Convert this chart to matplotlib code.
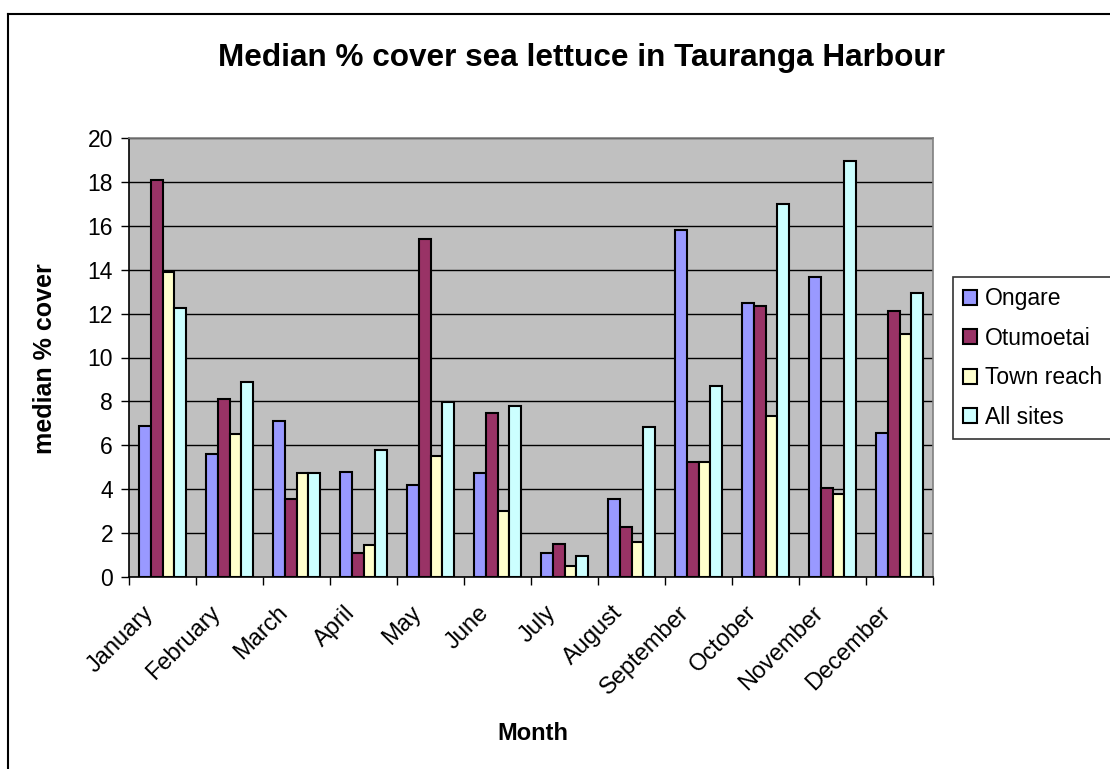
import matplotlib
matplotlib.use("Agg")
import matplotlib.pyplot as plt
import matplotlib.transforms as mtransforms
import numpy as np
from matplotlib.lines import Line2D

months = ["January", "February", "March", "April", "May", "June", "July",
          "August", "September", "October", "November", "December"]
series_names = ["Ongare", "Otumoetai", "Town reach", "All sites"]
ongare = [6.9, 5.6, 7.1, 4.8, 4.2, 4.75, 1.1, 3.55, 15.8, 12.5, 13.65, 6.55]
otumoetai = [18.1, 8.1, 3.55, 1.1, 15.4, 7.45, 1.5, 2.3, 5.25, 12.35, 4.05, 12.1]
town_reach = [13.9, 6.5, 4.75, 1.45, 5.5, 3.0, 0.5, 1.6, 5.25, 7.35, 3.8, 11.05]
all_sites = [12.25, 8.9, 4.75, 5.8, 7.95, 7.8, 0.95, 6.85, 8.7, 17.0, 18.95, 12.95]
yticks = [0, 2, 4, 6, 8, 10, 12, 14, 16, 18, 20]
colors = ["#9999FF", "#993366", "#FFFFCC", "#CCFFFF"]

plt.rcParams['font.family'] = ['Liberation Sans', 'DejaVu Sans']

W, H = 1110, 769
fig = plt.figure(figsize=(W / 100, H / 100), dpi=100)
fig.patch.set_facecolor("white")

ax = fig.add_axes([129 / W, 1 - 577 / H, 804 / W, 439 / H])
ax.set_facecolor("#C0C0C0")

data = [ongare, otumoetai, town_reach, all_sites]
x = np.arange(len(months)) + 0.5
bw = 0.173
for i, (vals, name, c) in enumerate(zip(data, series_names, colors)):
    ax.bar(x + (i - 1.5) * bw, vals, width=bw, color=c, edgecolor="black",
           linewidth=1.5, label=name, zorder=3)

ax.set_xlim(0, 12)
ax.set_ylim(0, 20)
ax.set_yticks(yticks)
ax.yaxis.grid(True, color="black", linewidth=1.0, zorder=1)
ax.set_axisbelow(True)

ax.set_xticks(np.arange(0, 13))
ax.set_xticklabels([])
ax.set_xticks(x, minor=True)
ax.set_xticklabels(months, minor=True, rotation=45, ha="right", va="top",
                   rotation_mode="anchor", fontsize=17)
ax.tick_params(axis="x", which="minor", length=0, pad=12)
ax.tick_params(axis="x", which="major", length=5.5, width=1, direction="out")
ax.tick_params(axis="y", length=5.5, width=1, direction="out", pad=6, labelsize=16.5)

offset = mtransforms.ScaledTranslation(-20 / 100, -8 / 100, fig.dpi_scale_trans)
for lbl in ax.xaxis.get_minorticklabels():
    lbl.set_transform(lbl.get_transform() + offset)

for s in ["top", "right"]:
    ax.spines[s].set_color("#808080")
    ax.spines[s].set_linewidth(1.2)
for s in ["left", "bottom"]:
    ax.spines[s].set_color("black")
    ax.spines[s].set_linewidth(1.2)

fig.text(581 / W, 1 - 58 / H, "Median % cover sea lettuce in Tauranga Harbour",
         ha="center", va="center", fontsize=22.7, fontweight="bold")
fig.text(45 / W, 1 - 359 / H, "median % cover", rotation=90, ha="center",
         va="center", fontsize=18, fontweight="bold")
fig.text(533 / W, 1 - 733 / H, "Month", ha="center", va="center",
         fontsize=17, fontweight="bold")

leg = fig.legend(loc="upper left", bbox_to_anchor=(953 / W, 1 - 277 / H),
                 fontsize=16.5, frameon=True, fancybox=False, edgecolor="black",
                 handlelength=0.6, handleheight=0.6, handletextpad=0.35,
                 labelspacing=0.72, borderpad=0.45, borderaxespad=0)
leg.get_frame().set_linewidth(1.2)

fig.add_artist(Line2D([8 / W, 8 / W], [0, 1 - 14 / H], transform=fig.transFigure,
                      color="black", linewidth=1.5))
fig.add_artist(Line2D([8 / W, 1], [1 - 14 / H, 1 - 14 / H], transform=fig.transFigure,
                      color="black", linewidth=1.5))

fig.savefig("out.png", dpi=100)
